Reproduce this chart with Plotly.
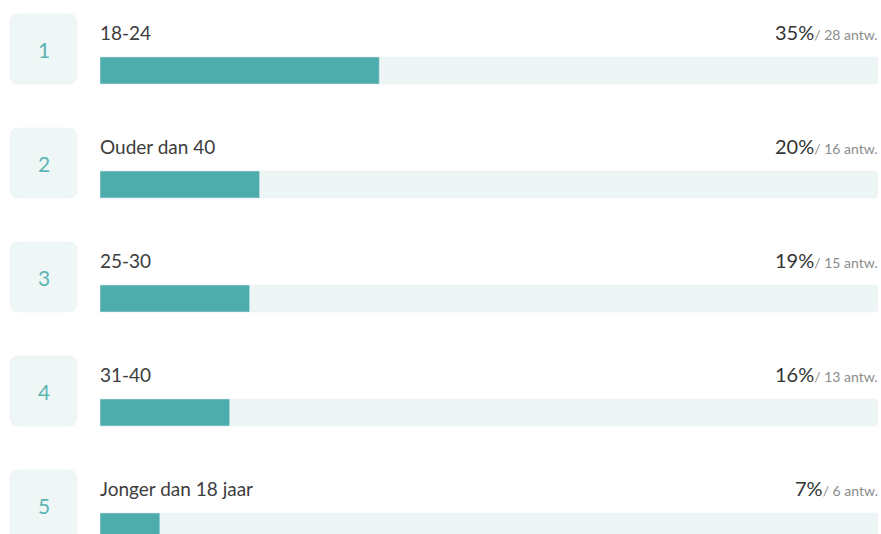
import plotly.graph_objects as go

# data
labels = ["18-24", "Ouder dan 40", "25-30", "31-40", "Jonger dan 18 jaar"]
counts = [28, 16, 15, 13, 6]
percents = [35, 20, 19, 16, 7]
ranks = [1, 2, 3, 4, 5]

total = sum(counts)
shares = [c / total * 100 for c in counts]

TEAL = "#4DADAC"
TRACK = "#EDF5F5"
BOX = "#EEF6F6"
FONT = "Lato, 'Noto Sans', sans-serif"

W, H = 881, 534
ROW = 114
bar_y = [70.5 + ROW * i for i in range(len(labels))]
box_y = [49 + ROW * i for i in range(len(labels))]
label_y = [32 + ROW * i for i in range(len(labels))]

fig = go.Figure()

# rank boxes (pixel axis x2)
fig.add_trace(go.Bar(
    x=[67] * len(ranks), y=box_y, base=[10] * len(ranks), width=70,
    orientation="h", xaxis="x2", yaxis="y",
    marker=dict(color=BOX, cornerradius=8), hoverinfo="skip", showlegend=False
))

# track
fig.add_trace(go.Bar(
    x=[100] * len(labels), y=bar_y, width=27, orientation="h",
    marker=dict(color=TRACK, cornerradius=4), hoverinfo="skip", showlegend=False
))

# fill
fig.add_trace(go.Bar(
    x=shares, y=bar_y, width=27, orientation="h",
    marker=dict(color=TEAL, cornerradius=4), showlegend=False,
    customdata=counts, hovertemplate="%{customdata} antw.<extra></extra>"
))

annotations = []
for i, lab in enumerate(labels):
    annotations.append(dict(
        x=98, y=label_y[i], xref="x2", yref="y", text=lab, showarrow=False,
        xanchor="left", yanchor="middle", font=dict(family=FONT, size=19, color="#3d3d3d")
    ))
    annotations.append(dict(
        x=880, y=label_y[i], xref="x2", yref="y", showarrow=False,
        text=f"{percents[i]}%<span style='font-size:14px;color:#8c8c8c'>/ {counts[i]} antw.</span>",
        xanchor="right", yanchor="middle", font=dict(family=FONT, size=20, color="#333333")
    ))
    annotations.append(dict(
        x=44, y=box_y[i], xref="x2", yref="y", text=str(ranks[i]), showarrow=False,
        xanchor="center", yanchor="middle", font=dict(family=FONT, size=21, color="#5DB5B3")
    ))

fig.update_layout(
    width=W, height=H,
    margin=dict(l=0, r=0, t=0, b=0),
    paper_bgcolor="white", plot_bgcolor="rgba(0,0,0,0)",
    barmode="overlay",
    xaxis=dict(domain=[100 / W, 878 / W], range=[0, 100], visible=False, fixedrange=True),
    xaxis2=dict(domain=[0, 1], range=[0, W], anchor="y", visible=False, fixedrange=True),
    yaxis=dict(domain=[0, 1], range=[H, 0], visible=False, fixedrange=True),
    annotations=annotations,
    font=dict(family=FONT),
)

fig.write_html("out.html", config={"displayModeBar": False},
               post_script="document.body.style.margin='0';")
